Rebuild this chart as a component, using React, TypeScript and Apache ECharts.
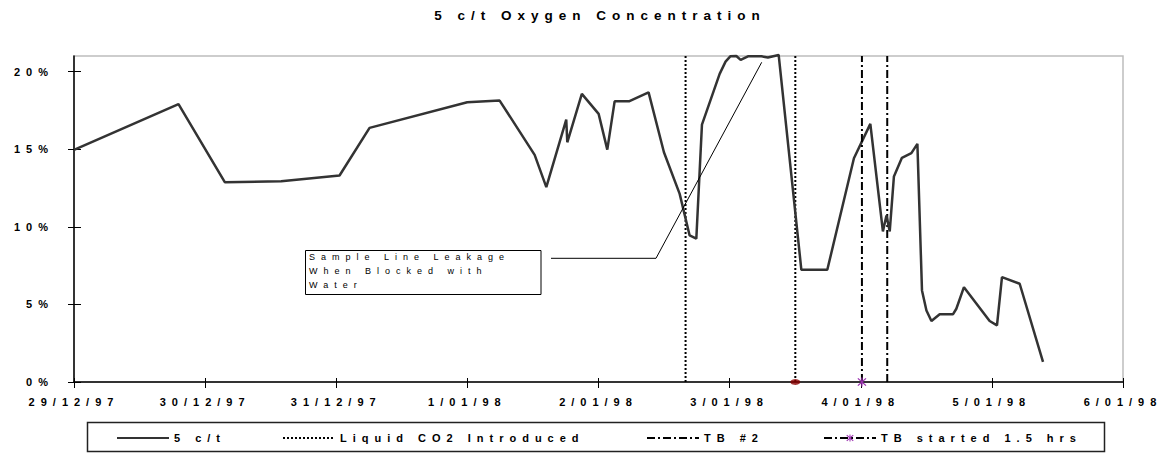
import React, { useEffect, useRef } from "react";
import * as echarts from "echarts";

// ---- data ----
const xTickLabels = ["29/12/97", "30/12/97", "31/12/97", "1/01/98", "2/01/98", "3/01/98", "4/01/98", "5/01/98", "6/01/98"];
const yTicks = [0, 5, 10, 15, 20];

// days since 29/12/97 00:00
const o2Days = [
  0, 0.797, 1.15, 1.58, 2.025, 2.254, 2.999, 3.246, 3.513, 3.602, 3.754, 3.762, 3.873, 4.001, 4.067, 4.123,
  4.232, 4.382, 4.499, 4.619, 4.695, 4.746, 4.789, 4.924, 4.969, 5.005, 5.051, 5.084, 5.14, 5.242, 5.292, 5.374,
  5.547, 5.745, 5.948, 6.073, 6.169, 6.196, 6.221, 6.253, 6.314, 6.386, 6.432, 6.467, 6.501, 6.539, 6.602, 6.703,
  6.729, 6.787, 6.983, 7.039, 7.077, 7.212, 7.39,
];
// oxygen concentration, %
const o2Percent = [
  14.95, 17.9, 12.87, 12.93, 13.3, 16.37, 18.02, 18.13, 14.63, 12.55, 16.9, 15.44, 18.56, 17.27, 14.97, 18.08,
  18.08, 18.66, 14.8, 12.12, 9.44, 9.23, 16.58, 19.85, 20.64, 20.98, 21.0, 20.75, 20.98, 20.98, 20.9, 21.07,
  7.23, 7.23, 14.41, 16.63, 9.7, 10.73, 9.7, 13.24, 14.44, 14.74, 15.34, 5.9, 4.61, 3.93, 4.36, 4.36,
  4.72, 6.11, 3.93, 3.65, 6.76, 6.33, 1.29,
];
const co2Days = [4.664, 5.501];
const co2MarkerDays = [5.501];
const tb2Days = [6.202];
const tbStartDays = [6.009];
const yMax = 21;

const FONT = '"Liberation Sans", Arial, sans-serif';
const STAR =
  "path://M4.4,0 L5.6,0 L5.6,10 L4.4,10 Z M0.6,1.45 L1.45,0.6 L9.4,8.55 L8.55,9.4 Z M8.55,0.6 L9.4,1.45 L1.45,9.4 L0.6,8.55 Z";

export default function App() {
  const ref = useRef<HTMLDivElement>(null);

  useEffect(() => {
    if (!ref.current) return;
    const chart = echarts.init(ref.current, undefined, { renderer: "svg" });

    const vline = (d: number) => [
      [d, 0],
      [d, yMax],
    ];

    const series: any[] = [
      {
        name: "5 c/t",
        type: "line",
        data: o2Days.map((d, i) => [d, o2Percent[i]]),
        symbol: "none",
        clip: false,
        lineStyle: { color: "#333", width: 2.5 },
        itemStyle: { color: "#333" },
        z: 3,
      },
      ...co2Days.map((d) => ({
        name: "Liquid CO2 Introduced",
        type: "line",
        data: vline(d),
        symbol: "none",
        lineStyle: { color: "#000", width: 2, type: [2, 2] },
        itemStyle: { color: "#000" },
        z: 2,
      })),
      ...tb2Days.map((d) => ({
        name: "TB #2",
        type: "line",
        data: vline(d),
        symbol: "none",
        lineStyle: { color: "#000", width: 2, type: [8, 3, 2, 3] },
        itemStyle: { color: "#000" },
        z: 2,
      })),
      ...tbStartDays.map((d) => ({
        name: "TB started 1.5 hrs",
        type: "line",
        data: [{ value: [d, 0] }, { value: [d, yMax], symbol: "none" }],
        symbol: STAR,
        symbolSize: 9,
        showSymbol: true,
        clip: false,
        lineStyle: { color: "#000", width: 2, type: [8, 3, 2, 3] },
        itemStyle: { color: "#9b30b0" },
        z: 4,
      })),
      {
        name: "co2Marker",
        type: "scatter",
        data: co2MarkerDays.map((d) => [d, 0]),
        symbol: "circle",
        symbolSize: [10, 6],
        clip: false,
        itemStyle: { color: "#8b0000" },
        z: 5,
      },
    ];

    const legendBase = {
      top: 432.5,
      padding: 0,
      itemWidth: 52,
      itemHeight: 9,
      itemGap: 0,
      selectedMode: false,
      textStyle: { fontSize: 11, fontWeight: "bold", color: "#000", fontFamily: FONT },
    };
    const noSymbol = { itemStyle: { opacity: 0, color: "transparent", borderWidth: 0 } };

    chart.setOption({
      animation: false,
      backgroundColor: "#fff",
      textStyle: { fontFamily: FONT },
      title: {
        text: "5 c/t Oxygen Concentration",
        left: 600,
        top: 8,
        padding: 0,
        textAlign: "center",
        textStyle: { fontSize: 13.5, fontWeight: "bold", color: "#000", fontFamily: FONT },
      },
      grid: { left: 74, right: 48, top: 56, bottom: 72, show: true, borderColor: "#bdbdbd", borderWidth: 1.5 },
      legend: [
        { ...legendBase, ...noSymbol, data: ["5 c/t"], left: 116 },
        { ...legendBase, ...noSymbol, data: ["Liquid CO2 Introduced"], left: 282 },
        { ...legendBase, ...noSymbol, data: ["TB #2"], left: 646 },
        { ...legendBase, data: ["TB started 1.5 hrs"], left: 823 },
      ],
      xAxis: [
        {
          type: "value",
          min: 0,
          max: xTickLabels.length - 1,
          interval: 1,
          axisLine: { lineStyle: { color: "#000", width: 1.5 } },
          axisTick: { length: 6, lineStyle: { color: "#000", width: 1 } },
          axisLabel: {
            margin: 14,
            fontSize: 11,
            fontWeight: "bold",
            color: "#000",
            fontFamily: FONT,
            formatter: (v: number) => xTickLabels[Math.round(v)] ?? "",
          },
          splitLine: { show: false },
        },
        {
          type: "value",
          min: 0,
          max: xTickLabels.length - 1,
          interval: 1,
          position: "bottom",
          axisLine: { show: false },
          axisTick: { inside: true, length: 4, lineStyle: { color: "#000", width: 1 } },
          axisLabel: { show: false },
          splitLine: { show: false },
        },
      ],
      yAxis: [
        {
          type: "value",
          min: 0,
          max: yMax,
          interval: 5,
          axisLine: { show: true, lineStyle: { color: "#000", width: 1.5 } },
          axisTick: { show: true, length: 6, customValues: yTicks, lineStyle: { color: "#000", width: 1 } },
          axisLabel: {
            margin: 20,
            fontSize: 11,
            fontWeight: "bold",
            color: "#000",
            fontFamily: FONT,
            customValues: yTicks,
            formatter: (v: number) => (yTicks.includes(v) ? `${v}%` : ""),
          },
          splitLine: { show: false },
        },
        {
          type: "value",
          min: 0,
          max: yMax,
          interval: 5,
          position: "left",
          axisLine: { show: false },
          axisTick: { show: true, inside: true, length: 7, customValues: yTicks, lineStyle: { color: "#000", width: 1 } },
          axisLabel: { show: false },
          splitLine: { show: false },
        },
      ],
      series,
      graphic: [
        {
          type: "rect",
          shape: { x: 87.5, y: 422.5, width: 1017, height: 29 },
          style: { fill: "none", stroke: "#222", lineWidth: 1.5 },
          z: 1,
        },
        {
          type: "polyline",
          shape: {
            points: [
              [551, 258.3],
              [656, 258.3],
              [761.7, 62.3],
            ],
          },
          style: { fill: "none", stroke: "#000", lineWidth: 1 },
          z: 10,
        },
        {
          type: "rect",
          shape: { x: 305.5, y: 250.5, width: 235.5, height: 44 },
          style: { fill: "#fff", stroke: "#000", lineWidth: 1 },
          z: 10,
        },
        {
          type: "text",
          x: 309,
          y: 250.3,
          z: 11,
          style: {
            text: "Sample Line Leakage\nWhen Blocked with\nWater",
            fill: "#000",
            fontSize: 9,
            fontFamily: FONT,
            lineHeight: 13.9,
            align: "left",
            verticalAlign: "top",
          },
        },
      ],
    });

    return () => chart.dispose();
  }, []);

  return (
    <>
      <style>{".chart-host svg text{letter-spacing:6px}"}</style>
      <div
        ref={ref}
        className="chart-host"
        style={{ position: "fixed", left: 0, top: 0, width: 1171, height: 454, background: "#fff" }}
      />
    </>
  );
}
